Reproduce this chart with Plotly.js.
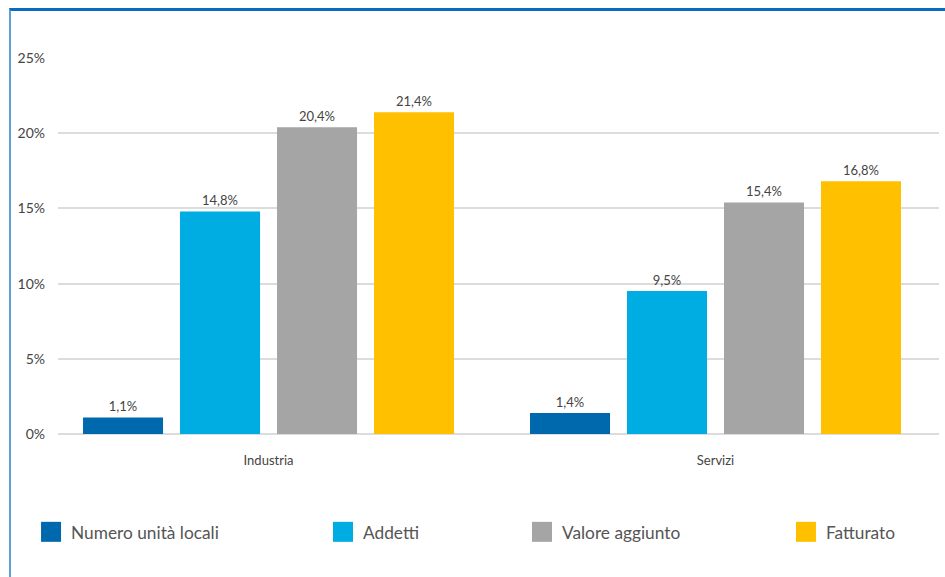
<!DOCTYPE html>
<html>
<head>
<meta charset="utf-8">
<script src="https://cdn.plot.ly/plotly-3.0.1.min.js"></script>
<style>
  html, body { margin: 0; padding: 0; background: #fff; }
  #wrap { position: relative; width: 945px; height: 577px; }
  #chart { width: 945px; height: 577px; }
  #frame { position: absolute; left: 9px; top: 8px; right: 0; bottom: 0;
           border-top: 3px solid #0b6cbf; border-left: 2px solid #5f9fd6; pointer-events: none; }
</style>
</head>
<body>
<div id="wrap"><div id="chart"></div><div id="frame"></div></div>
<script>
const categories = ["Industria", "Servizi"];
const seriesNames = ["Numero unità locali", "Addetti", "Valore aggiunto", "Fatturato"];
const numeroUnitaLocali = [1.1, 1.4];
const addetti = [14.8, 9.5];
const valoreAggiunto = [20.4, 15.4];
const fatturato = [21.4, 16.8];
const yTicks = [0, 5, 10, 15, 20, 25];
const yTickText = ["0%", "5%", "10%", "15%", "20%", "25%"];

const colors = ["#0068ad", "#00ade2", "#a6a5a6", "#ffc000"];
const values = [numeroUnitaLocali, addetti, valoreAggiunto, fatturato];
const legendIds = ["legend", "legend2", "legend3", "legend4"];
const legendX = [-0.0306, 0.3008, 0.5267, 0.8263];

const FONT = "Lato, 'Open Sans', sans-serif";

const traces = values.map((v, i) => ({
  type: "bar",
  name: seriesNames[i],
  x: categories,
  y: v,
  marker: { color: colors[i] },
  texttemplate: "%{y:.1f}%",
  textposition: "outside",
  textfont: { family: FONT, size: 13, color: "#444" },
  cliponaxis: false,
  legend: legendIds[i],
  hoverinfo: "skip"
}));

const layout = {
  width: 945, height: 577,
  margin: { l: 58, r: 6, t: 58, b: 143 },
  paper_bgcolor: "#fff", plot_bgcolor: "#fff",
  separators: ",.",
  barmode: "group",
  bargap: 0.132,
  bargroupgap: 0.175,
  showlegend: true,
  font: { family: FONT, color: "#444" },
  xaxis: {
    range: [-0.471, 1.5],
    showgrid: false, zeroline: false, showline: false,
    ticks: "", tickfont: { family: FONT, size: 13, color: "#444" },
    ticklabelstandoff: 17
  },
  yaxis: {
    range: [0, 25],
    tickmode: "array",
    tickvals: yTicks,
    ticktext: yTickText,
    showgrid: true, gridcolor: "#dcdcdc", gridwidth: 2,
    zeroline: true, zerolinecolor: "#dcdcdc", zerolinewidth: 2,
    showline: false, ticks: "",
    tickfont: { family: FONT, size: 14, color: "#444" },
    ticklabelstandoff: 12
  }
};
legendIds.forEach((id, i) => {
  layout[id] = {
    x: legendX[i], y: -0.213, xref: "paper", yref: "paper",
    xanchor: "left", yanchor: "top",
    orientation: "h",
    font: { family: FONT, size: 17.3, color: "#555" },
    bgcolor: "rgba(0,0,0,0)"
  };
});

Plotly.newPlot("chart", traces, layout, { displayModeBar: false, staticPlot: true }).then(() => {
  document.querySelectorAll(".legendpoints path").forEach(p => {
    p.setAttribute("d", "M10,10H-10V-10H10Z");
  });
});
</script>
</body>
</html>
